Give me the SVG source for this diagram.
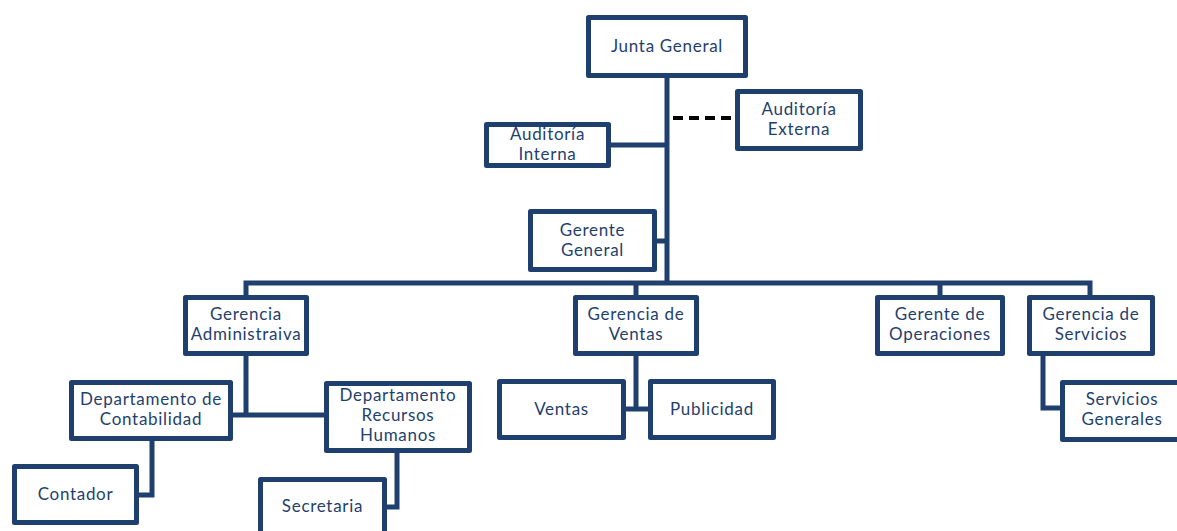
<svg xmlns="http://www.w3.org/2000/svg" width="1177" height="531" viewBox="0 0 1177 531">
<style>
.box{fill:#fff;stroke:#1F3F6E;stroke-width:5;stroke-linejoin:round}
.ln{fill:none;stroke:#1F3F6E;stroke-width:5;stroke-linecap:butt;stroke-linejoin:miter}
.dash{fill:none;stroke:#000;stroke-width:4;stroke-dasharray:10 6}
text{font-family:Lato,"Open Sans","Liberation Sans",sans-serif;font-size:17px;letter-spacing:0.7px;fill:#1F3F6E;text-anchor:middle}
</style>
<rect width="1177" height="531" fill="#fff"/>
<g id="connectors">
<path class="ln" d="M667 77V285"/>
<path class="ln" d="M611 145H667"/>
<path class="ln" d="M657 241H667"/>
<path class="ln" d="M246 297V283H1090V297"/>
<path class="ln" d="M636 283V297"/>
<path class="ln" d="M940 283V297"/>
<path class="ln" d="M246 356V415"/>
<path class="ln" d="M233 415H326"/>
<path class="ln" d="M636 356V409"/>
<path class="ln" d="M626 409H650"/>
<path class="ln" d="M152 441V495H137"/>
<path class="ln" d="M397 453V507H385"/>
<path class="ln" d="M1043 356V408H1062"/>
<path class="dash" d="M673 118H735"/>
</g>
<g id="junta"><rect class="box" x="588.5" y="17.5" width="157" height="58"/><text x="667" y="52">Junta General</text></g>
<g id="aud-externa"><rect class="box" x="737.5" y="91.5" width="123" height="57"/><text x="799" y="115">Auditoría</text><text x="799" y="135">Externa</text></g>
<g id="aud-interna"><rect class="box" x="486.5" y="124.5" width="122" height="41"/><text x="547.5" y="140">Auditoría</text><text x="547.5" y="160">Interna</text></g>
<g id="gerente-general"><rect class="box" x="530.5" y="211.5" width="124" height="58"/><text x="592.5" y="236">Gerente</text><text x="592.5" y="256">General</text></g>
<g id="ger-admin"><rect class="box" x="185.5" y="297.5" width="121" height="56"/><text x="246" y="320">Gerencia</text><text x="246" y="340">Administraiva</text></g>
<g id="ger-ventas"><rect class="box" x="575.5" y="297.5" width="121" height="56"/><text x="636" y="320">Gerencia de</text><text x="636" y="340">Ventas</text></g>
<g id="ger-operaciones"><rect class="box" x="877.5" y="297.5" width="125" height="56"/><text x="940" y="320">Gerente de</text><text x="940" y="340">Operaciones</text></g>
<g id="ger-servicios"><rect class="box" x="1029.5" y="297.5" width="123" height="56"/><text x="1091" y="320">Gerencia de</text><text x="1091" y="340">Servicios</text></g>
<g id="dep-contabilidad"><rect class="box" x="71.5" y="382.5" width="159" height="56"/><text x="151" y="405">Departamento de</text><text x="151" y="425">Contabilidad</text></g>
<g id="dep-rh"><rect class="box" x="326.5" y="383.5" width="143" height="67"/><text x="398" y="401">Departamento</text><text x="398" y="421">Recursos</text><text x="398" y="441">Humanos</text></g>
<g id="ventas"><rect class="box" x="499.5" y="381.5" width="124" height="56"/><text x="561.5" y="415">Ventas</text></g>
<g id="publicidad"><rect class="box" x="650.5" y="381.5" width="123" height="56"/><text x="712" y="415">Publicidad</text></g>
<g id="servicios-generales"><rect class="box" x="1062.5" y="382.5" width="130" height="57"/><text x="1122" y="405">Servicios</text><text x="1122" y="425">Generales</text></g>
<g id="contador"><rect class="box" x="14.5" y="466.5" width="122" height="56"/><text x="75.5" y="500">Contador</text></g>
<g id="secretaria"><rect class="box" x="260.5" y="479.5" width="124" height="60"/><text x="322.5" y="512">Secretaria</text></g>
</svg>
